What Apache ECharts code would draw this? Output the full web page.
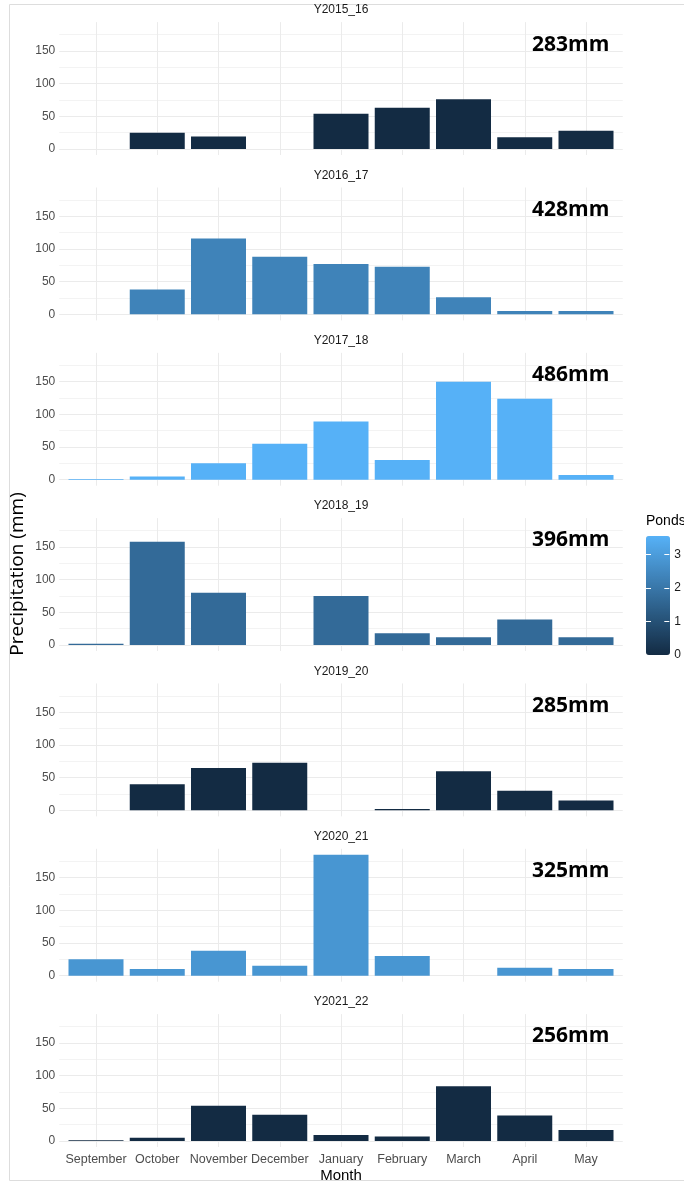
<!DOCTYPE html>
<html>
<head>
<meta charset="utf-8">
<script src="https://cdn.jsdelivr.net/npm/echarts@6/dist/echarts.min.js"></script>
<style>
html, body { margin: 0; padding: 0; background: #fff; }
#main { width: 684px; height: 1183px; }
</style>
</head>
<body>
<div id="main"></div>
<script>
var months = ['September', 'October', 'November', 'December', 'January', 'February', 'March', 'April', 'May'];
var seasons = ['Y2015_16', 'Y2016_17', 'Y2017_18', 'Y2018_19', 'Y2019_20', 'Y2020_21', 'Y2021_22'];
var totals = ['283mm', '428mm', '486mm', '396mm', '285mm', '325mm', '256mm'];
var ponds = [0, 2.33, 3.55, 1.67, 0, 2.83, 0];
var pondTicks = [0, 1, 2, 3];

// precipitation (mm) per month, Sep..May
var rain2015_16 = [0, 25, 19, 0, 54, 63, 76, 18, 28];
var rain2016_17 = [0, 38, 116, 88, 77, 73, 26, 5, 5];
var rain2017_18 = [1, 5, 25, 55, 89, 30, 150, 124, 7];
var rain2018_19 = [2, 158, 80, 0, 75, 18, 12, 39, 12];
var rain2019_20 = [0, 40, 65, 73, 0, 2, 60, 30, 15];
var rain2020_21 = [25, 10, 38, 15, 185, 30, 0, 12, 10];
var rain2021_22 = [1, 5, 54, 40, 9, 7, 84, 39, 17];
var rain = [rain2015_16, rain2016_17, rain2017_18, rain2018_19, rain2019_20, rain2020_21, rain2021_22];

var myChart = echarts.init(document.getElementById('main'));

// panel layout
var firstZero = 149, panelStep = 165.33, pxPerMm = 0.653;
var yMin = -9.25, yMax = 194.25;
var tickColor = '#4d4d4d';

var grids = [], xAxes = [], yAxes = [], series = [], graphics = [];

for (var i = 0; i < seasons.length; i++) {
    var zero = firstZero + panelStep * i;
    grids.push({ left: 59.25, right: 61.25, top: zero - yMax * pxPerMm, height: (yMax - yMin) * pxPerMm });
    xAxes.push({
        type: 'value', gridIndex: i, min: -0.6, max: 8.6, splitNumber: 9,
        axisLine: { show: false }, axisTick: { show: false },
        splitLine: { show: true, showMinLine: false, showMaxLine: false, lineStyle: { color: '#ebebeb', width: 1 } },
        axisLabel: {
            show: i === seasons.length - 1, margin: 6, fontSize: 12.5, color: tickColor,
            fontFamily: 'Liberation Sans', showMinLabel: false, showMaxLabel: false,
            formatter: function (v) { return months[v] || ''; }
        }
    });
    yAxes.push({
        type: 'value', gridIndex: i, min: yMin, max: yMax, splitNumber: 4,
        axisLine: { show: false }, axisTick: { show: false },
        axisLabel: { color: tickColor, fontSize: 12, margin: 4, fontFamily: 'Liberation Sans', showMinLabel: false, showMaxLabel: false },
        splitLine: { show: true, showMinLine: false, showMaxLine: false, lineStyle: { color: '#ebebeb', width: 1 } },
        minorTick: { show: false, splitNumber: 2 },
        minorSplitLine: { show: true, lineStyle: { color: '#f3f3f3', width: 1 } }
    });
    series.push({
        type: 'bar', xAxisIndex: i, yAxisIndex: i, barWidth: 55,
        data: rain[i].map(function (v, j) { return [j, v, ponds[i]]; }),
        markPoint: {
            symbol: 'rect', symbolSize: 0, silent: true,
            label: { show: true, position: 'inside', formatter: totals[i], color: '#000', fontFamily: 'Open Sans', fontWeight: 'bold', fontSize: 21 },
            data: [{ coord: [7.75, 160] }]
        }
    });
    // facet strip title
    graphics.push({
        type: 'text', x: 341, y: zero - 139,
        style: { text: seasons[i], align: 'center', verticalAlign: 'middle', textAlign: 'center', textVerticalAlign: 'middle',
                 fill: '#1a1a1a', font: '12px "Liberation Sans"' }
    });
}

// colourbar axis (legend)
var lg = seasons.length;
grids.push({ left: 646, top: 536, width: 24, height: 119 });
xAxes.push({ type: 'value', gridIndex: lg, show: false });
yAxes.push({
    type: 'value', gridIndex: lg, min: 0, max: 3.55, position: 'left', z: 10,
    axisLine: { show: false }, splitLine: { show: false }, axisLabel: { show: false },
    axisTick: { show: true, inside: true, length: 5, customValues: [1, 2, 3], lineStyle: { color: '#fff', width: 1 } }
});
yAxes.push({
    type: 'value', gridIndex: lg, min: 0, max: 3.55, position: 'right', z: 10,
    axisLine: { show: false }, splitLine: { show: false },
    axisLabel: { color: '#1a1a1a', fontSize: 12, margin: 5, fontFamily: 'Liberation Sans', customValues: pondTicks },
    axisTick: { show: true, inside: true, length: 5, customValues: [1, 2, 3], lineStyle: { color: '#fff', width: 1 } }
});

graphics.push({
    type: 'text', x: 18, y: 574, rotation: Math.PI / 2,
    style: { text: 'Precipitation (mm)', align: 'center', verticalAlign: 'middle', textAlign: 'center', textVerticalAlign: 'middle',
             fill: '#000', font: '19px "Open Sans"' }
});
graphics.push({
    type: 'text', x: 341, y: 1176,
    style: { text: 'Month', align: 'center', verticalAlign: 'middle', textAlign: 'center', textVerticalAlign: 'middle',
             fill: '#000', font: '15px "Liberation Sans"' }
});
graphics.push({
    type: 'text', x: 646, y: 521,
    style: { text: 'Ponds', align: 'left', verticalAlign: 'middle', textAlign: 'left', textVerticalAlign: 'middle',
             fill: '#000', font: '14px "Liberation Sans"' }
});
graphics.push({
    type: 'rect', z: -1, silent: true,
    shape: { x: 9.5, y: 4.5, width: 700, height: 1176 },
    style: { fill: 'none', stroke: '#dddddd', lineWidth: 1 }
});

var option = {
    animation: false,
    grid: grids,
    xAxis: xAxes,
    yAxis: yAxes,
    visualMap: {
        type: 'continuous', min: 0, max: 3.55, dimension: 2,
        seriesIndex: [0, 1, 2, 3, 4, 5, 6],
        inRange: { color: ['#132B43', '#56B1F7'] },
        left: 646, top: 536, itemWidth: 24, itemHeight: 119, padding: 0,
        calculable: false, hoverLink: false, text: null, showLabel: false
    },
    graphic: graphics,
    series: series
};
myChart.setOption(option);
</script>
</body>
</html>
